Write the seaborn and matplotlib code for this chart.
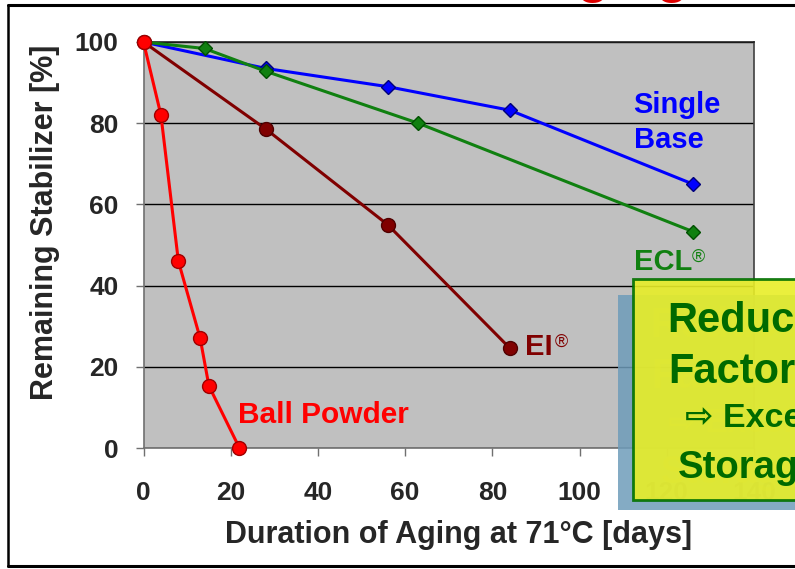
import matplotlib
matplotlib.use("Agg")
import matplotlib.pyplot as plt
import seaborn as sns
import pandas as pd
from matplotlib.patches import Rectangle
from matplotlib.lines import Line2D

# ---------------- data ----------------
single_days = [0, 28, 56, 84, 126]
single_vals = [100, 93.5, 89, 83.2, 65]
ecl_days = [0, 14, 28, 63, 126]
ecl_vals = [100, 98.4, 92.8, 80, 53.3]
ei_days = [0, 28, 56, 84]
ei_vals = [100, 78.6, 55, 24.6]
ball_days = [0, 4, 8, 13, 15, 22]
ball_vals = [100, 82, 46, 27, 15.3, 0]

x_ticks = [0, 20, 40, 60, 80, 100, 120, 140]
y_ticks = [0, 20, 40, 60, 80, 100]

sns.set_style("white")
plt.rcParams["font.family"] = ["Liberation Sans", "DejaVu Sans"]

W, H = 795, 569
fig = plt.figure(figsize=(W / 100, H / 100), dpi=100)
fig.patch.set_facecolor("white")

def fx(px):
    return px / W

def fy(py):
    return 1 - py / H

ax = fig.add_axes([fx(143.5), fy(448), fx(754) - fx(143.5), fy(42) - fy(448)])
ax.set_facecolor("#C0C0C0")

series = [
    (single_days, single_vals, "#0000FF", "D", 7.5, "#00007A"),
    (ecl_days, ecl_vals, "#108010", "D", 7.5, "#005000"),
    (ei_days, ei_vals, "#800000", "o", 10, "#500000"),
    (ball_days, ball_vals, "#FF0000", "o", 10, "#A00000"),
]
for d, v, c, m, ms, ec in series:
    df = pd.DataFrame({"days": d, "val": v})
    sns.lineplot(data=df, x="days", y="val", ax=ax, color=c, lw=2.2,
                 marker=m, markersize=ms, markeredgecolor=ec,
                 markeredgewidth=1.0, sort=False, zorder=3, clip_on=False)

ax.set_xlim(0, 140)
ax.set_ylim(0, 100)
ax.set_xticks(x_ticks)
ax.set_yticks(y_ticks)
ax.set_xticklabels([str(t) for t in x_ticks], fontsize=19, fontweight="bold")
ax.set_yticklabels([str(t) for t in y_ticks], fontsize=19, fontweight="bold")
ax.tick_params(axis="y", direction="out", length=6, width=1, color="#707070", pad=12, left=True)
ax.tick_params(axis="x", direction="out", length=6, width=1, color="#707070", pad=18, bottom=True)
ax.yaxis.grid(True, color="black", lw=1)
ax.xaxis.grid(False)
ax.set_axisbelow(True)
for s in ["left", "bottom"]:
    ax.spines[s].set_color("#707070")
    ax.spines[s].set_linewidth(1.2)
ax.spines["top"].set_color("#202020")
ax.spines["top"].set_linewidth(1.2)
ax.spines["right"].set_color("#404040")
ax.spines["right"].set_linewidth(1.2)

ax.set_xlabel("Duration of Aging at 71°C [days]", fontsize=22, fontweight="bold")
ax.xaxis.label.set_verticalalignment("baseline")
ax.xaxis.set_label_coords((459 - 143.5) / 610.5, -(543 - 448) / 406)
ax.set_ylabel("Remaining Stabilizer [%]", fontsize=22, fontweight="bold")
ax.yaxis.label.set_rotation_mode("anchor")
ax.yaxis.label.set_verticalalignment("baseline")
ax.yaxis.label.set_horizontalalignment("center")
ax.yaxis.set_label_coords((53 - 143.5) / 610.5, (448 - 222) / 406)

# series labels
ax.text(112.4, 82.5, "Single", color="#0000FF", fontsize=21, fontweight="bold", va="baseline")
ax.text(112.4, 73.9, "Base", color="#0000FF", fontsize=21, fontweight="bold", va="baseline")
ax.text(112.4, 43.8, "ECL", color="#108010", fontsize=21, fontweight="bold", va="baseline")
ax.text(125.8, 45.8, "®", color="#108010", fontsize=13, va="baseline")
ax.text(87.6, 22.9, "EI", color="#800000", fontsize=21, fontweight="bold", va="baseline")
ax.text(94.3, 25.0, "®", color="#800000", fontsize=13, va="baseline")
ax.text(21.7, 6.2, "Ball Powder", color="#FF0000", fontsize=21.5, fontweight="bold", va="baseline")

# title fragment at the top (only descenders visible)
fig.text(fx(540), fy(-8), "Aging", color="#E00000", fontsize=38, fontweight="bold", va="baseline")

# slide frame
fig.add_artist(Line2D([fx(8), 1.01], [fy(5), fy(5)], transform=fig.transFigure, color="black", lw=2.2, zorder=10))
fig.add_artist(Line2D([fx(8), fx(8)], [fy(5), fy(566)], transform=fig.transFigure, color="black", lw=1.8, zorder=10))
fig.add_artist(Line2D([fx(8), 1.01], [fy(566), fy(566)], transform=fig.transFigure, color="black", lw=2.2, zorder=10))

# shadow box and callout box
fig.add_artist(Rectangle((fx(618), fy(510)), 0.3, fy(295) - fy(510), transform=fig.transFigure,
                         facecolor="#6E9CBA", edgecolor="none", alpha=0.85, zorder=5))
ghost = [("Reduced", 322, 30), ("Factors", 373, 30), ("⇨ Excellent", 417, 24), ("Storage", 468, 27)]
gx = [650, 651, 668, 661]
for (t, by, fs), x0 in zip(ghost, gx):
    fig.text(fx(x0), fy(by + 15), t, color="#A8B870", alpha=0.35, fontsize=fs,
             fontweight="bold", va="baseline", zorder=5.5)
fig.add_artist(Rectangle((fx(633), fy(500)), 0.3, fy(279) - fy(500), transform=fig.transFigure,
                         facecolor="#E8EE28", edgecolor="#007000", lw=2, alpha=0.9, zorder=6))
box_text = [("Reduced", 667, 332, 30), ("Factors", 668, 383, 30), ("⇨ Excellent", 685, 427, 24.5),
            ("Storage", 678, 478, 27.5)]
for t, x0, by, fs in box_text:
    fig.text(fx(x0), fy(by), t, color="#006A00", fontsize=fs, fontweight="bold",
             va="baseline", zorder=7)

fig.savefig("out.png", dpi=100)
